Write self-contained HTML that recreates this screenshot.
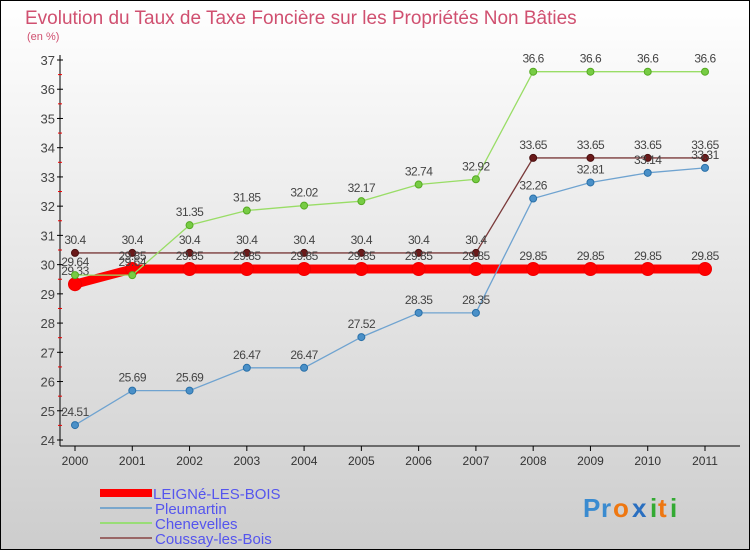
<!DOCTYPE html>
<html><head><meta charset="utf-8"><style>
body{margin:0}
svg text{font-family:"Liberation Sans",sans-serif}
</style></head><body>
<svg id="c" width="750" height="550" xmlns="http://www.w3.org/2000/svg">
<defs><linearGradient id="bg" x1="0" y1="0" x2="0" y2="1"><stop offset="0" stop-color="#ffffff"/><stop offset="1" stop-color="#cdcdcd"/></linearGradient></defs>
<rect x="0.5" y="0.5" width="749" height="549" fill="url(#bg)" stroke="#000"/>
<text x="25" y="24" font-size="19" fill="#d05070">Evolution du Taux de Taxe Foncière sur les Propriétés Non Bâties</text>
<text x="27" y="40" font-size="11" fill="#d05070">(en %)</text>
<g id="axes"></g><g id="series"></g>
<g>
<rect x="100" y="489" width="52" height="8" fill="#f00"/>
<text x="153" y="499" font-size="15" fill="#5555ee">LEIGNé-LES-BOIS</text>
<line x1="100" y1="508" x2="152" y2="508" stroke="#7aa7cc" stroke-width="2"/>
<text x="155" y="514" font-size="15" fill="#5555ee">Pleumartin</text>
<line x1="100" y1="523" x2="152" y2="523" stroke="#99dd77" stroke-width="2"/>
<text x="155" y="529" font-size="15" fill="#5555ee">Chenevelles</text>
<line x1="100" y1="538" x2="152" y2="538" stroke="#996666" stroke-width="2"/>
<text x="155" y="544" font-size="15" fill="#5555ee">Coussay-les-Bois</text>
</g>
<g font-size="26" font-weight="bold">
<text x="583" y="517" fill="#3a8bd0">P</text><text x="601" y="517" fill="#3a8bd0">r</text><text x="613" y="517" fill="#ee7711">o</text><text x="632" y="517" fill="#2a6fc0">x</text><text x="650" y="517" fill="#33aa33">i</text><text x="658" y="517" fill="#ee7711">t</text><text x="670" y="517" fill="#33aa33">i</text>
</g>
</svg>
<script>
const years=[2000,2001,2002,2003,2004,2005,2006,2007,2008,2009,2010,2011];
const yTicks=[24,25,26,27,28,29,30,31,32,33,34,35,36,37];
const leigne=[29.33,29.85,29.85,29.85,29.85,29.85,29.85,29.85,29.85,29.85,29.85,29.85];
const pleumartin=[24.51,25.69,25.69,26.47,26.47,27.52,28.35,28.35,32.26,32.81,33.14,33.31];
const chenevelles=[29.64,29.64,31.35,31.85,32.02,32.17,32.74,32.92,36.6,36.6,36.6,36.6];
const coussay=[30.4,30.4,30.4,30.4,30.4,30.4,30.4,30.4,33.65,33.65,33.65,33.65];
const NS='http://www.w3.org/2000/svg';
const X=i=>75+i*(630/(years.length-1));
const Y=v=>440-(v-24)*(380/13);
function mk(p,t,a){const e=document.createElementNS(NS,t);for(const k in a)e.setAttribute(k,a[k]);p.appendChild(e);return e;}
const ax=document.getElementById('axes');
const yl=mk(ax,'line',{x1:60,y1:55,x2:60,y2:446,stroke:'#000'});


const xl=mk(ax,'line',{x1:60,y1:446,x2:740,y2:446,stroke:'#000'});


yTicks.forEach(v=>{
 mk(ax,'line',{x1:57,y1:Y(v),x2:63,y2:Y(v),stroke:'#000'});
 if(v<37)mk(ax,'line',{x1:58,y1:Y(v+0.5),x2:62,y2:Y(v+0.5),stroke:'#e00'});
 const t=mk(ax,'text',{x:55,y:Y(v)+5,'text-anchor':'end','font-size':13,fill:'#444'});
 t.textContent=v;
 
 
});
years.forEach((y,i)=>{
 mk(ax,'line',{x1:X(i),y1:446,x2:X(i),y2:451,stroke:'#000'});
 const t=mk(ax,'text',{x:X(i),y:465,'text-anchor':'middle','font-size':12,fill:'#333'});
 t.textContent=y;
 
 
});
const sg=document.getElementById('series');
function series(name,data,color,w,r,dot,dotStroke){
 const g=mk(sg,'g',{});
 
 
 mk(g,'polyline',{points:data.map((v,i)=>X(i)+','+Y(v)).join(' '),fill:'none',stroke:color,'stroke-width':w});
 data.forEach((v,i)=>{
  const c=mk(g,'circle',{cx:X(i),cy:Y(v),r:r,fill:dot,stroke:dotStroke,'stroke-width':1});
  
  
  const t=mk(g,'text',{x:X(i),y:Y(v)-9,'text-anchor':'middle','font-size':12,fill:'#444','letter-spacing':'-0.5'});
  t.textContent=v;
  
  
 });
}
series('coussay',coussay,'#7a3a3a',1.3,3.5,'#6b1a1a','#4a1010');
series('leigne',leigne,'#ff0000',9,6.5,'#ff0000','#ee0000');
series('pleumartin',pleumartin,'#6fa3d0',1.3,3.5,'#4a90c8','#2a70a8');
series('chenevelles',chenevelles,'#99dd66',1.3,3.5,'#77cc44','#55aa22');
</script>
</body></html>
